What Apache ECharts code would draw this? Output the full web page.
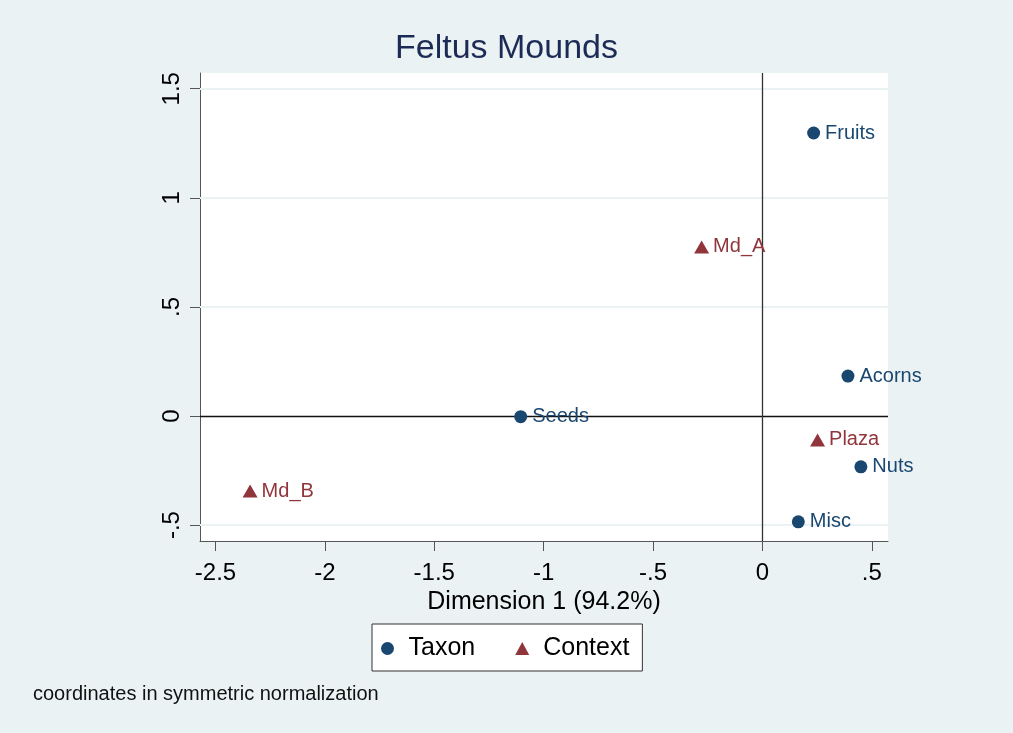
<!DOCTYPE html>
<html>
<head>
<meta charset="utf-8">
<script src="https://cdn.jsdelivr.net/npm/echarts@6/dist/echarts.min.js"></script>
<style>
  html, body { margin: 0; padding: 0; background: #eaf2f3; }
  #chart { width: 1013px; height: 733px; }
</style>
</head>
<body>
<div id="chart"></div>
<script>
// Taxon points (dimension 1, dimension 2)
const taxonNames = ["Fruits", "Acorns", "Seeds", "Nuts", "Misc"];
const taxonX = [0.234, 0.391, -1.105, 0.450, 0.164];
const taxonY = [1.297, 0.183, -0.003, -0.233, -0.485];

// Context points
const contextNames = ["Md_A", "Md_B", "Plaza"];
const contextX = [-0.278, -2.342, 0.252];
const contextY = [0.775, -0.344, -0.110];

const xTicks = [-2.5, -2, -1.5, -1, -0.5, 0, 0.5];
const yTicks = [-0.5, 0, 0.5, 1, 1.5];

const FONT = "'Liberation Sans', Arial, Helvetica, sans-serif";
const navy = "#1a476f";
const maroon = "#90353b";

// Stata-style number labels: .5 instead of 0.5
const stataNum = (v) => {
  if (Math.abs(v) < 1e-9) return "0";
  const s = String(Math.abs(Math.round(v * 100) / 100)).replace(/^0\./, ".");
  return (v < 0 ? "-" : "") + s;
};

const chart = echarts.init(document.getElementById("chart"));

const option = {
  backgroundColor: "#eaf2f3",
  animation: false,
  title: [
    {
      text: "Feltus Mounds",
      left: "center",
      top: 32,
      padding: 0,
      textStyle: { fontFamily: FONT, fontSize: 34, fontWeight: "normal", color: "#1c2b55" },
    },
    {
      text: "coordinates in symmetric normalization",
      left: 33,
      top: 684,
      padding: 0,
      textStyle: { fontFamily: FONT, fontSize: 20, fontWeight: "normal", color: "#111" },
    },
  ],
  legend: {
    left: 372,
    top: 624,
    orient: "horizontal",
    backgroundColor: "#ffffff",
    borderColor: "#333",
    borderWidth: 1,
    borderRadius: 0,
    padding: [12, 13, 10, 9],
    itemWidth: 14,
    itemHeight: 13,
    itemGap: 40,
    formatter: (name) => "{t|" + name + "}",
    textStyle: {
      fontFamily: FONT,
      fontSize: 25,
      color: "#000",
      rich: { t: { fontFamily: FONT, fontSize: 25, color: "#000", padding: [0, 0, 0, 9] } },
    },
    data: [
      { name: "Taxon", icon: "circle" },
      { name: "Context", icon: "triangle" },
    ],
  },
  grid: {
    left: 200,
    right: 125,
    top: 73,
    bottom: 192,
    show: true,
    backgroundColor: "#ffffff",
    borderWidth: 0,
  },
  xAxis: {
    type: "value",
    min: -2.571,
    max: 0.574,
    name: "Dimension 1 (94.2%)",
    nameLocation: "middle",
    nameGap: 40,
    nameTextStyle: { fontFamily: FONT, fontSize: 25, color: "#000" },
    axisLine: { show: true, onZero: false, lineStyle: { color: "#555", width: 1 } },
    axisTick: { show: true, length: 10, customValues: xTicks, lineStyle: { color: "#555" } },
    axisLabel: {
      customValues: xTicks,
      margin: 20,
      fontFamily: FONT,
      fontSize: 24,
      color: "#000",
      formatter: stataNum,
    },
    splitLine: { show: false },
  },
  yAxis: {
    type: "value",
    min: -0.573,
    max: 1.572,
    axisLine: { show: true, onZero: false, lineStyle: { color: "#555", width: 1 } },
    axisTick: { show: true, length: 10, customValues: yTicks, lineStyle: { color: "#555" } },
    axisLabel: {
      customValues: yTicks,
      rotate: 90,
      margin: 16,
      fontFamily: FONT,
      fontSize: 24,
      color: "#000",
      formatter: stataNum,
    },
    splitLine: { show: false },
  },
  series: [
    {
      // grid and reference lines only
      type: "line",
      data: [],
      silent: true,
      z: 1,
      markLine: {
        silent: true,
        symbol: "none",
        label: { show: false },
        animation: false,
        data: [
          ...yTicks.filter((v) => v !== 0).map((v) => ({
            yAxis: v,
            lineStyle: { color: "#eaf2f3", width: 2, type: "solid" },
          })),
          { yAxis: 0, lineStyle: { color: "#111", width: 1.3, type: "solid" } },
          { xAxis: 0, lineStyle: { color: "#333", width: 1.3, type: "solid" } },
        ],
      },
    },
    {
      name: "Taxon",
      type: "scatter",
      zlevel: 1,
      z: 10,
      clip: false,
      symbol: "circle",
      symbolSize: 13,
      itemStyle: { color: navy, opacity: 1 },
      label: {
        show: true,
        position: "right",
        distance: 5,
        formatter: "{b}",
        fontFamily: FONT,
        fontSize: 20,
        color: navy,
      },
      data: taxonNames.map((n, i) => ({ name: n, value: [taxonX[i], taxonY[i]] })),
    },
    {
      name: "Context",
      type: "scatter",
      zlevel: 1,
      z: 10,
      clip: false,
      symbol: "triangle",
      symbolSize: [15, 13],
      itemStyle: { color: maroon, opacity: 1 },
      label: {
        show: true,
        position: "right",
        distance: 4,
        formatter: "{b}",
        fontFamily: FONT,
        fontSize: 20,
        color: maroon,
      },
      data: contextNames.map((n, i) => ({ name: n, value: [contextX[i], contextY[i]] })),
    },
  ],
};

chart.setOption(option);
</script>
</body>
</html>
